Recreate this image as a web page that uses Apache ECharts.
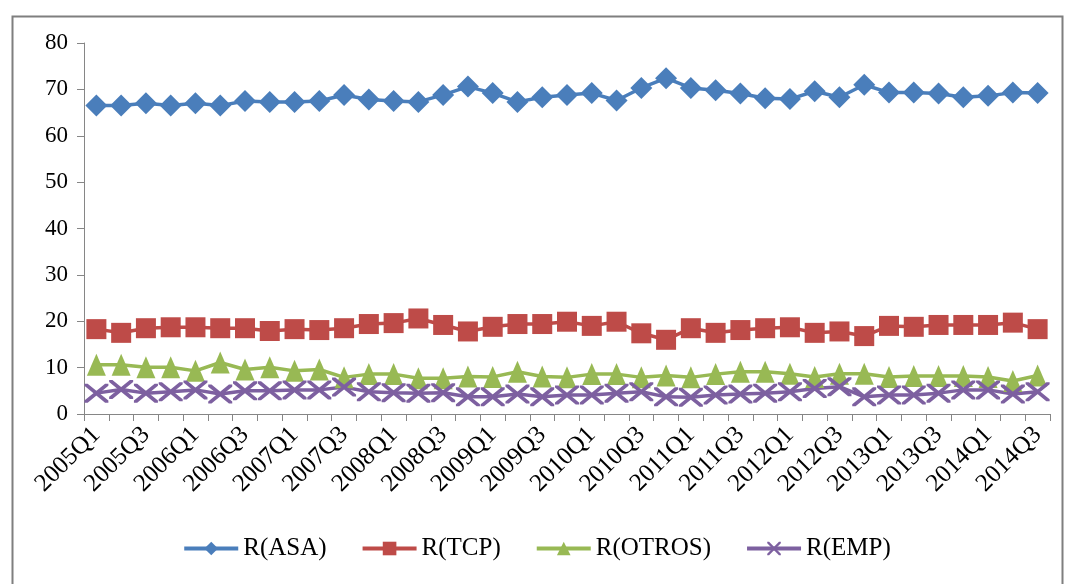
<!DOCTYPE html>
<html>
<head>
<meta charset="utf-8">
<script src="https://cdn.jsdelivr.net/npm/echarts@6/dist/echarts.min.js"></script>
<style>
  html, body { margin: 0; padding: 0; background: #ffffff; }
  #chart { width: 1073px; height: 584px; }
</style>
</head>
<body>
<div id="chart"></div>
<script>
// Quarterly categories 2005Q1 .. 2014Q3
const quarters = [
  '2005Q1','2005Q2','2005Q3','2005Q4',
  '2006Q1','2006Q2','2006Q3','2006Q4',
  '2007Q1','2007Q2','2007Q3','2007Q4',
  '2008Q1','2008Q2','2008Q3','2008Q4',
  '2009Q1','2009Q2','2009Q3','2009Q4',
  '2010Q1','2010Q2','2010Q3','2010Q4',
  '2011Q1','2011Q2','2011Q3','2011Q4',
  '2012Q1','2012Q2','2012Q3','2012Q4',
  '2013Q1','2013Q2','2013Q3','2013Q4',
  '2014Q1','2014Q2','2014Q3'
];

const rASA = [
  66.5, 66.5, 67.0, 66.5, 67.0, 66.5, 67.5, 67.3, 67.3, 67.5,
  68.8, 67.8, 67.5, 67.3, 68.8, 70.6, 69.2, 67.3, 68.3, 68.8,
  69.2, 67.6, 70.3, 72.4, 70.3, 69.8, 69.1, 68.1, 67.9, 69.6,
  68.3, 71.0, 69.3, 69.3, 69.1, 68.3, 68.6, 69.3, 69.2
];

const rTCP = [
  18.3, 17.5, 18.5, 18.7, 18.7, 18.5, 18.5, 17.9, 18.3, 18.1,
  18.5, 19.4, 19.6, 20.6, 19.2, 17.8, 18.8, 19.4, 19.4, 19.9,
  19.0, 19.9, 17.4, 16.0, 18.5, 17.5, 18.1, 18.5, 18.7, 17.5,
  17.8, 16.8, 19.0, 18.8, 19.2, 19.2, 19.2, 19.7, 18.3
];

const rOTROS = [
  10.6, 10.6, 10.1, 10.1, 9.3, 11.1, 9.6, 10.1, 9.3, 9.6,
  7.9, 8.6, 8.6, 7.7, 7.7, 8.1, 8.0, 9.1, 8.1, 7.9,
  8.6, 8.6, 7.9, 8.3, 7.9, 8.6, 9.1, 9.1, 8.7, 8.0,
  8.7, 8.7, 8.0, 8.2, 8.2, 8.2, 8.0, 7.1, 8.3
];

const rEMP = [
  4.5, 5.3, 4.5, 4.8, 5.2, 4.3, 5.0, 5.0, 5.2, 5.2,
  5.8, 4.8, 4.6, 4.5, 4.6, 3.7, 3.7, 4.3, 3.7, 4.1,
  4.1, 4.5, 4.8, 3.7, 3.6, 4.1, 4.3, 4.5, 4.8, 5.5,
  5.9, 3.7, 4.1, 4.1, 4.5, 5.2, 5.2, 4.3, 4.8
];

const seriesNames = ['R(ASA)', 'R(TCP)', 'R(OTROS)', 'R(EMP)'];
const yTicks = [0, 10, 20, 30, 40, 50, 60, 70, 80];

const FONT = '"Liberation Serif", "DejaVu Serif", serif';
const AXIS_GREY = '#868686';

// X-shaped marker drawn as two filled bars
const crossPath = 'path://M0,0 L3,0 L22,16 L22,18 L19,18 L0,2 Z M19,0 L22,0 L22,2 L3,18 L0,18 L0,16 Z';

function lineSeries(name, data, color, symbol, size) {
  return {
    name: name,
    type: 'line',
    data: data,
    symbol: symbol,
    symbolSize: size,
    showAllSymbol: true,
    lineStyle: { color: color, width: 3.5 },
    itemStyle: { color: color, borderWidth: 0 },
    emphasis: { disabled: true },
    animation: false
  };
}

const chart = echarts.init(document.getElementById('chart'), null, { renderer: 'canvas' });

chart.setOption({
  backgroundColor: '#ffffff',
  animation: false,
  graphic: [{
    type: 'rect',
    left: 10, top: 14,
    shape: { width: 1050, height: 600 },
    style: { fill: 'none', stroke: '#7f7f7f', lineWidth: 2 },
    silent: true
  }],
  grid: { left: 84, right: 23, top: 43, bottom: 170, containLabel: false },
  legend: {
    bottom: 18,
    left: 'center',
    itemWidth: 54,
    itemHeight: 17,
    itemGap: 34,
    data: seriesNames,
    lineStyle: { width: 4 },
    textStyle: { fontFamily: FONT, fontSize: 25, color: '#000000' }
  },
  xAxis: {
    type: 'category',
    data: quarters,
    boundaryGap: true,
    axisLine: { show: true, lineStyle: { color: AXIS_GREY, width: 1 } },
    axisTick: { show: true, interval: 0, length: 7, lineStyle: { color: AXIS_GREY } },
    axisLabel: {
      interval: 1,
      rotate: 45,
      margin: 17,
      fontFamily: FONT,
      fontSize: 25,
      color: '#000000'
    },
    splitLine: { show: false }
  },
  yAxis: {
    type: 'value',
    min: yTicks[0],
    max: yTicks[yTicks.length - 1],
    interval: 10,
    axisLine: { show: true, lineStyle: { color: AXIS_GREY, width: 1 } },
    axisTick: { show: true, length: 7, lineStyle: { color: AXIS_GREY } },
    axisLabel: {
      margin: 16,
      fontFamily: FONT,
      fontSize: 23,
      color: '#000000'
    },
    splitLine: { show: false }
  },
  series: [
    lineSeries(seriesNames[0], rASA, '#4a7ebb', 'diamond', [22, 22]),
    lineSeries(seriesNames[1], rTCP, '#be4b48', 'rect', [20, 20]),
    lineSeries(seriesNames[2], rOTROS, '#98b954', 'triangle', [19, 22]),
    lineSeries(seriesNames[3], rEMP, '#7d60a0', crossPath, [24, 19])
  ]
});
</script>
</body>
</html>
